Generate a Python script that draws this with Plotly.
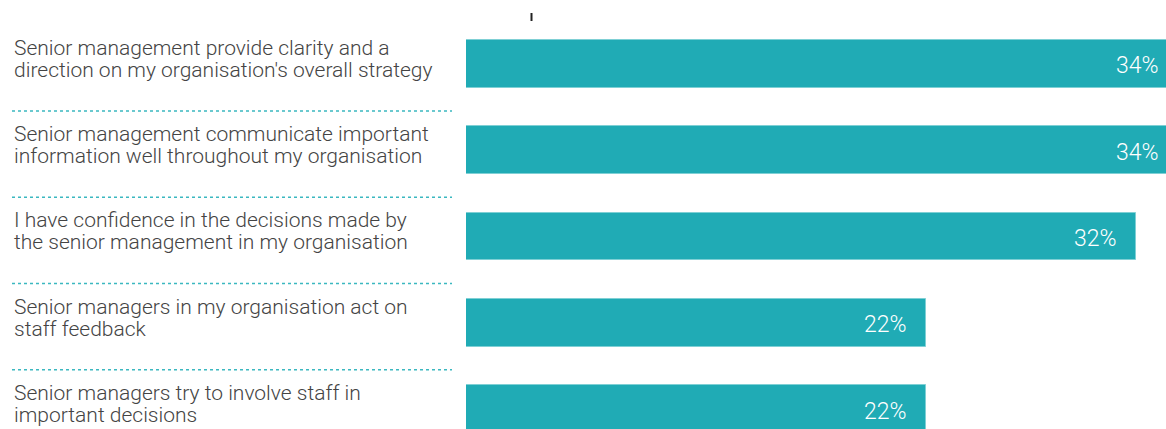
import plotly.graph_objects as go

categories = [
    "Senior management provide clarity and a<br>direction on my organisation's overall strategy",
    "Senior management communicate important<br>information well throughout my organisation",
    "I have confidence in the decisions made by<br>the senior management in my organisation",
    "Senior managers in my organisation act on<br>staff feedback",
    "Senior managers try to involve staff in<br>important decisions",
]
values = [34, 34, 32, 22, 22]
value_labels = ["34%", "34%", "32%", "22%", "22%"]

VIEW_W, H = 1166, 429
W = 1190
L = 466
PW = W - L
px_per_pct = 20.93
pitch = 86.3
c0 = 64

BAR = "#20ABB5"

fig = go.Figure()
fig.add_trace(go.Bar(
    x=values, y=categories, orientation="h",
    marker=dict(color=BAR, line=dict(color="#7fd0d5", width=1)),
    width=0.556,
    hoverinfo="skip",
))

annotations = []
for c, v, t in zip(categories, values, value_labels):
    annotations.append(dict(
        x=v, xref="x", y=c, yref="y", xshift=-17, yshift=-2,
        xanchor="right", yanchor="middle", text=t, showarrow=False,
        font=dict(family="Roboto", size=23, color="white", weight=300),
    ))

for c in categories:
    lines = c.split("<br>")
    shifts = [16, -6] if len(lines) == 2 else [5]
    for ln, s in zip(lines, shifts):
        annotations.append(dict(
            x=(12 - L) / PW, xref="paper", y=c, yref="y", yshift=s,
            xanchor="left", yanchor="middle", align="left",
            text=ln, showarrow=False,
            font=dict(family="Roboto", size=21, color="#444444", weight=300),
        ))

shapes = []
for i in range(len(categories) - 1):
    shapes.append(dict(
        type="line", xref="paper", yref="y",
        x0=(12 - L) / PW, x1=(452 - L) / PW,
        y0=i + 0.545, y1=i + 0.545,
        line=dict(color="#3bb8c0", width=1.5, dash="dot"),
    ))
shapes.append(dict(
    type="line", xref="paper", yref="paper",
    x0=(531.5 - L) / PW, x1=(531.5 - L) / PW,
    y0=1 - 13 / H, y1=1 - 21 / H,
    line=dict(color="#222222", width=2),
))

fig.update_layout(
    width=W, height=H,
    margin=dict(l=L, r=0, t=0, b=0),
    paper_bgcolor="white", plot_bgcolor="white",
    showlegend=False,
    bargap=0,
    xaxis=dict(range=[0, PW / px_per_pct], visible=False, fixedrange=True),
    yaxis=dict(
        type="category", categoryorder="array", categoryarray=categories,
        range=[4 + (H - 409) / pitch, -c0 / pitch],
        visible=False, fixedrange=True,
    ),
    annotations=annotations, shapes=shapes,
)

fig.write_html(
    "out.html",
    config={"displayModeBar": False},
    post_script=(
        "document.body.style.margin='0';"
        "document.body.style.overflow='hidden';"
        "document.documentElement.style.overflow='hidden';"
    ),
)
